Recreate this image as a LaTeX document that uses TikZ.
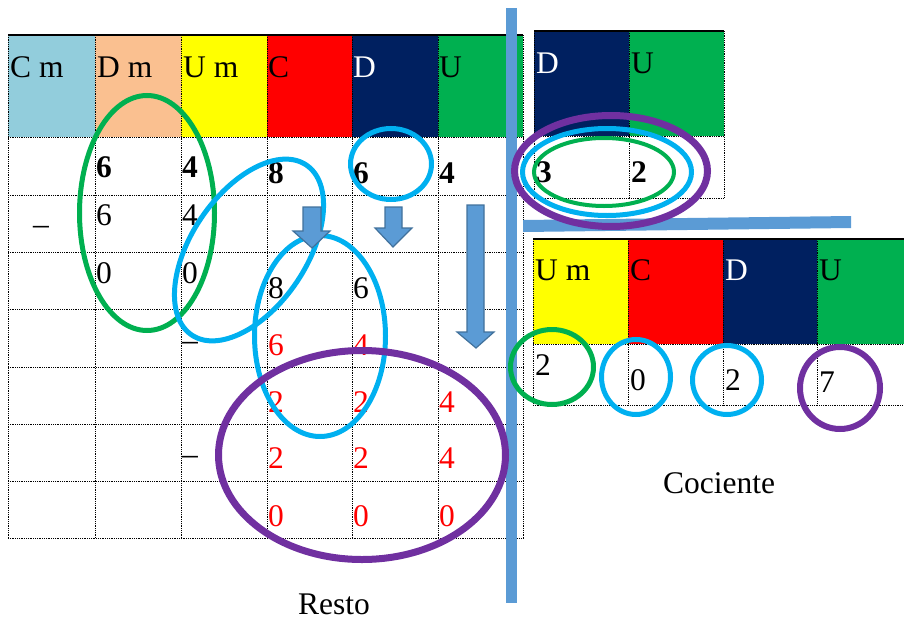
\documentclass[tikz,border=0pt]{standalone}
\usepackage{fontspec}
\setmainfont{Liberation Serif}
\definecolor{cmblue}{HTML}{92CDDC}
\definecolor{dmpeach}{HTML}{FAC090}
\definecolor{umyellow}{HTML}{FFFF00}
\definecolor{cred}{HTML}{FF0000}
\definecolor{dnavy}{HTML}{002060}
\definecolor{ugreen}{HTML}{00B050}
\definecolor{barblue}{HTML}{5B9BD5}
\definecolor{baredge}{HTML}{41719C}
\definecolor{ringcyan}{HTML}{00B0F0}
\definecolor{ringpurple}{HTML}{7030A0}
\begin{document}
\begin{tikzpicture}[x=1pt,y=-1pt,
  txt/.style={anchor=base west, inner sep=0pt, font=\fontsize{31.5}{36}\selectfont},
  bd/.style={txt, font=\fontsize{31.5}{36}\selectfont\bfseries},
  rd/.style={txt, text=cred},
  wt/.style={txt, text=white},
  label/.style={anchor=base, inner sep=0pt, font=\fontsize{31.5}{36}\selectfont},
  gridline/.style={line width=0.8pt, densely dotted, black},
  topline/.style={line width=2pt, black},
  ring/.style={line width=5pt},
  thickring/.style={line width=7pt, ringpurple},
  blockarrow/.style={fill=barblue, draw=baredge, line width=1.2pt, line join=miter},
]
\useasboundingbox (0,0) rectangle (904,621);
\clip (0,0) rectangle (904,621);

% ---- main place-value table: header fills
\fill[cmblue]   (8,35)   rectangle (95,137);
\fill[dmpeach]  (95,35)  rectangle (181,137);
\fill[umyellow] (181,35) rectangle (267,137);
\fill[cred]     (267,35) rectangle (352,137);
\fill[dnavy]    (352,35) rectangle (438,137);
\fill[ugreen]   (438,35) rectangle (523,137);
% grid
\foreach \x in {8,95,181,267,352,438,523} \draw[gridline] (\x,35) -- (\x,538);
\foreach \y in {137,195,252,309,367,424,481,538} \draw[gridline] (8,\y) -- (523,\y);
\draw[topline] (8,35) -- (523,35);

% ---- divisor table
\fill[dnavy]  (534,31) rectangle (629,136);
\fill[ugreen] (629,31) rectangle (724,136);
\foreach \x in {534,629,724} \draw[gridline] (\x,31) -- (\x,198);
\foreach \y in {136,198} \draw[gridline] (534,\y) -- (724,\y);
\draw[topline] (534,31) -- (724,31);

% ---- quotient table
\fill[umyellow] (533,239) rectangle (628,344);
\fill[cred]     (628,239) rectangle (723,344);
\fill[dnavy]    (723,239) rectangle (817,344);
\fill[ugreen]   (817,239) rectangle (912,344);
\foreach \x in {533,628,723,817,912} \draw[gridline] (\x,239) -- (\x,405);
\foreach \y in {344,405} \draw[gridline] (533,\y) -- (912,\y);
\draw[topline] (533,239) -- (912,239);

% ---- division bracket bars
\fill[barblue] (506,8) rectangle (517,603);
\fill[barblue] (523,220) -- (851,216) -- (851,228) -- (523,232) -- cycle;

% ---- main table texts
\node[txt] (hcm) at (10,77)  {C m};
\node[txt] (hdm) at (97,77)  {D m};
\node[txt] (hum) at (183,77) {U m};
\node[txt] (hc)  at (268,77) {C};
\node[wt]  (hd)  at (353,77) {D};
\node[txt] (hu)  at (439,77) {U};

\node[bd] (a1) at (96,177)  {6};
\node[bd] (a2) at (182,177) {4};
\node[bd] (a3) at (268,183) {8};
\node[bd] (a4) at (353,183) {6};
\node[bd] (a5) at (439,183) {4};

\node[txt] (s1) at (33,234)  {–};
\node[txt] (b1) at (96,225)  {6};
\node[txt] (b2) at (182,225) {4};

\node[txt] (c1) at (96,283)  {0};
\node[txt] (c2) at (182,283) {0};
\node[txt] (c3) at (268,298) {8};
\node[txt] (c4) at (353,298) {6};

\node[txt] (s2) at (182,350) {–};
\node[rd] (d1) at (268,355) {6};
\node[rd] (d2) at (353,355) {4};

\node[rd] (e1) at (268,412) {2};
\node[rd] (e2) at (353,412) {2};
\node[rd] (e3) at (439,412) {4};

\node[txt] (s3) at (182,464) {–};
\node[rd] (f1) at (268,468) {2};
\node[rd] (f2) at (353,468) {2};
\node[rd] (f3) at (439,468) {4};

\node[rd] (g1) at (268,526) {0};
\node[rd] (g2) at (353,526) {0};
\node[rd] (g3) at (439,526) {0};

% ---- divisor texts
\node[wt]  (vd) at (536,73)  {D};
\node[txt] (vu) at (631,73)  {U};
\node[bd]  (v1) at (536,182) {3};
\node[bd]  (v2) at (631,182) {2};

% ---- quotient texts
\node[txt] (qum) at (535,280) {U m};
\node[txt] (qc)  at (630,280) {C};
\node[wt]  (qd)  at (725,280) {D};
\node[txt] (qu)  at (819,280) {U};
\node[txt] (q1) at (535,375) {2};
\node[txt] (q2) at (630,390) {0};
\node[txt] (q3) at (725,390) {2};
\node[txt] (q4) at (819,392) {7};

\node[label] (cociente) at (719,493) {Cociente};
\node[label] (resto) at (334,614) {Resto};

% ---- highlighting rings
\draw[ring, ugreen] (147,213) ellipse (67.5 and 117.5);
\draw[ring, ringcyan, rotate around={56:(249,250)}] (249,250) ellipse (102.5 and 57.5);
\draw[ring, ringcyan] (320,336) ellipse (65.5 and 100.5);
\draw[ring, ringcyan] (391,164) ellipse (40.5 and 35.5);
\draw[thickring] (362,455) ellipse (143.5 and 104.5);

\draw[thickring] (611,171) ellipse (96.5 and 55.5);
\draw[ring, ringcyan] (607,172) ellipse (84.5 and 43.5);
\draw[line width=4pt, ugreen] (604,172) ellipse (70 and 34);

\draw[ring, ugreen] (552,367) ellipse (41.5 and 37.5);
\draw[ring, ringcyan] (636,377) ellipse (34.5 and 37.5);
\draw[ring, ringcyan] (727,380) ellipse (34.5 and 34.5);
\draw[line width=6pt, ringpurple] (840,388) ellipse (40 and 41);

% ---- downward block arrows
\draw[blockarrow] (303,207) -- (321,207) -- (321,231) -- (330,231) -- (312,248) -- (293,231) -- (303,231) -- cycle;
\draw[blockarrow] (385,207) -- (402,207) -- (402,228) -- (412,228) -- (393,247) -- (375,228) -- (385,228) -- cycle;
\draw[blockarrow] (467,205) -- (484,205) -- (484,332) -- (494,332) -- (476,348) -- (457,332) -- (467,332) -- cycle;
\end{tikzpicture}
\end{document}
